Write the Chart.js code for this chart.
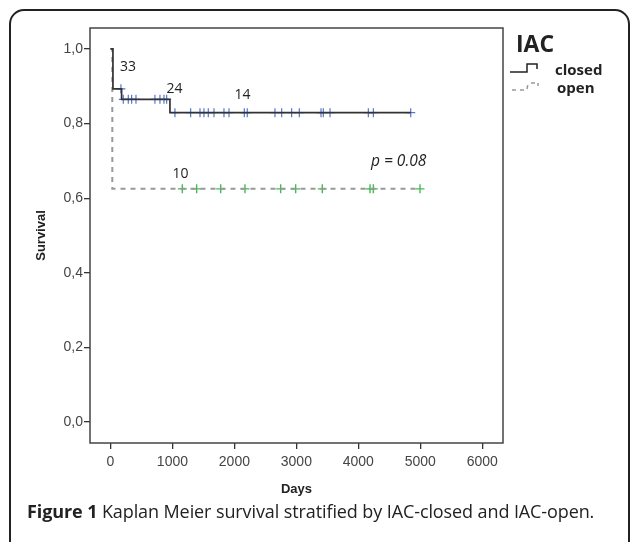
<!DOCTYPE html>
<html>
<head>
<meta charset="utf-8">
<script src="https://cdn.jsdelivr.net/npm/chart.js@4.4.1/dist/chart.umd.min.js"></script>
<style>
  html, body { margin: 0; padding: 0; background: #fff; }
  #wrap { position: relative; width: 630px; height: 542px; overflow: hidden; }
  #frame { position: absolute; left: 9px; top: 9px; width: 617px; height: 545px;
           border: 2px solid #222; border-radius: 15px; }
  #caption { position: absolute; left: 27px; top: 499px; font-family: "Open Sans", sans-serif;
             font-size: 18px; color: #222; white-space: nowrap; letter-spacing: -0.1px; }
  #caption b { font-weight: 700; }
  canvas { position: absolute; left: 0; top: 0; }
</style>
</head>
<body>
<div id="wrap">
  <div id="frame"></div>
  <canvas id="kmChart" width="630" height="542"></canvas>
  <div id="caption"><b>Figure 1</b> Kaplan Meier survival stratified by IAC-closed and IAC-open.</div>
</div>
<script>
// Kaplan-Meier steps (days, survival)
var closedDays = [0, 40, 180, 960, 4846];
var closedSurv = [1.0, 0.893, 0.865, 0.829, 0.829];
var openDays = [0, 30, 5000];
var openSurv = [1.0, 0.625, 0.625];

// censored cases
var closedCensorDays = [169, 207, 288, 342, 412, 718, 799, 864, 907, 1041, 1294, 1445, 1509, 1579, 1671,
                        1832, 1913, 2160, 2208, 2655, 2763, 2924, 3048, 3398, 3435, 3543, 4162, 4243, 4846];
var closedCensorSurv = [0.893, 0.865, 0.865, 0.865, 0.865, 0.865, 0.865, 0.865, 0.865, 0.829, 0.829, 0.829,
                        0.829, 0.829, 0.829, 0.829, 0.829, 0.829, 0.829, 0.829, 0.829, 0.829, 0.829, 0.829,
                        0.829, 0.829, 0.829, 0.829, 0.829];
var openCensorDays = [1160, 1391, 1779, 2171, 2747, 2989, 3419, 4189, 4243, 4996];
var openCensorSurv = [0.625, 0.625, 0.625, 0.625, 0.625, 0.625, 0.625, 0.625, 0.625, 0.625];

var xTicks = [0, 1000, 2000, 3000, 4000, 5000, 6000];
var yTicks = [0.0, 0.2, 0.4, 0.6, 0.8, 1.0];

// numbers at risk shown on the plot
var riskLabels = ['33', '24', '14', '10'];
var riskDays = [250, 1000, 2100, 1100];
var riskSurv = [0.952, 0.893, 0.877, 0.666];

function pts(xs, ys) {
    return xs.map(function (x, i) { return { x: x, y: ys[i] }; });
}

var frameAndText = {
    id: 'frameAndText',
    afterDraw: function (chart) {
        var c = chart.ctx, a = chart.chartArea;
        var sx = chart.scales.x, sy = chart.scales.y;
        c.save();
        c.strokeStyle = '#444';
        c.lineWidth = 1.5;
        c.strokeRect(a.left, a.top, a.right - a.left, a.bottom - a.top);

        // numbers at risk
        c.fillStyle = '#222';
        c.font = '14px "Open Sans", sans-serif';
        c.textAlign = 'left';
        c.textBaseline = 'middle';
        riskLabels.forEach(function (t, i) {
            c.fillText(t, sx.getPixelForValue(riskDays[i]) - 6, sy.getPixelForValue(riskSurv[i]));
        });

        c.font = 'italic 15.5px "Open Sans", sans-serif';
        c.fillText('p = 0.08', 371, 162);

        // axis titles
        c.font = 'bold 13px "Liberation Sans", Arial, sans-serif';
        c.fillStyle = '#222';
        c.textAlign = 'center';
        c.fillText('Days', (a.left + a.right) / 2, 489);
        c.save();
        c.translate(41, (a.top + a.bottom) / 2);
        c.rotate(-Math.PI / 2);
        c.fillText('Survival', 0, 0);
        c.restore();

        // legend
        c.textAlign = 'left';
        c.textBaseline = 'alphabetic';
        c.font = 'bold 23px "Open Sans", sans-serif';
        c.fillText('IAC', 516, 52);
        c.font = 'bold 15px "Open Sans", sans-serif';
        c.fillText('closed', 555, 75);
        c.fillText('open', 557, 93);

        c.strokeStyle = '#222';
        c.lineWidth = 1.5;
        c.beginPath();
        c.moveTo(510, 72); c.lineTo(527, 72); c.lineTo(527, 64); c.lineTo(537, 64); c.lineTo(537, 69);
        c.stroke();
        c.strokeStyle = '#999';
        c.setLineDash([4, 4]);
        c.beginPath();
        c.moveTo(512, 90); c.lineTo(524, 90);
        c.moveTo(527, 89); c.lineTo(528, 84);
        c.moveTo(531, 83); c.lineTo(535, 83);
        c.moveTo(538, 83); c.lineTo(538, 86);
        c.stroke();
        c.restore();
    }
};

var ctx = document.getElementById('kmChart').getContext('2d');
var chart = new Chart(ctx, {
    type: 'scatter',
    data: {
        datasets: [{
            label: 'closed',
            data: pts(closedDays, closedSurv),
            showLine: true,
            stepped: 'before',
            borderColor: '#333',
            borderWidth: 1.7,
            pointRadius: 0
        }, {
            label: 'open',
            data: pts(openDays, openSurv),
            showLine: true,
            stepped: 'before',
            borderColor: '#999',
            borderWidth: 2,
            borderDash: [5, 5],
            pointRadius: 0
        }, {
            label: 'closed censored',
            data: pts(closedCensorDays, closedCensorSurv),
            pointStyle: 'cross',
            pointRadius: 4.5,
            borderColor: '#5577cc',
            borderWidth: 1.2
        }, {
            label: 'open censored',
            data: pts(openCensorDays, openCensorSurv),
            pointStyle: 'cross',
            pointRadius: 4.5,
            borderColor: '#44bb55',
            borderWidth: 1.4
        }]
    },
    options: {
        responsive: false,
        animation: false,
        layout: { padding: { left: 0, right: 127, top: 28, bottom: 0 } },
        plugins: {
            legend: { display: false },
            tooltip: { enabled: false }
        },
        scales: {
            x: {
                type: 'linear',
                min: -330,
                max: 6335,
                afterBuildTicks: function (s) { s.ticks = xTicks.map(function (v) { return { value: v }; }); },
                afterFit: function (s) { s.height = 99; },
                border: { display: false },
                grid: { drawOnChartArea: false, drawTicks: true, tickLength: 6, color: '#333', lineWidth: 1.3 },
                ticks: {
                    padding: 5,
                    color: '#444',
                    font: { family: '"Liberation Sans", Arial, sans-serif', size: 14 },
                    callback: function (v) { return String(v); }
                }
            },
            y: {
                type: 'linear',
                min: -0.056,
                max: 1.056,
                afterBuildTicks: function (s) { s.ticks = yTicks.map(function (v) { return { value: v }; }); },
                afterFit: function (s) { s.width = 90; },
                border: { display: false },
                grid: { drawOnChartArea: false, drawTicks: true, tickLength: 6, color: '#333', lineWidth: 1.3 },
                ticks: {
                    padding: 1,
                    color: '#444',
                    font: { family: '"Liberation Sans", Arial, sans-serif', size: 14 },
                    callback: function (v) { return v.toFixed(1).replace('.', ','); }
                }
            }
        }
    },
    plugins: [frameAndText]
});
</script>
</body>
</html>
